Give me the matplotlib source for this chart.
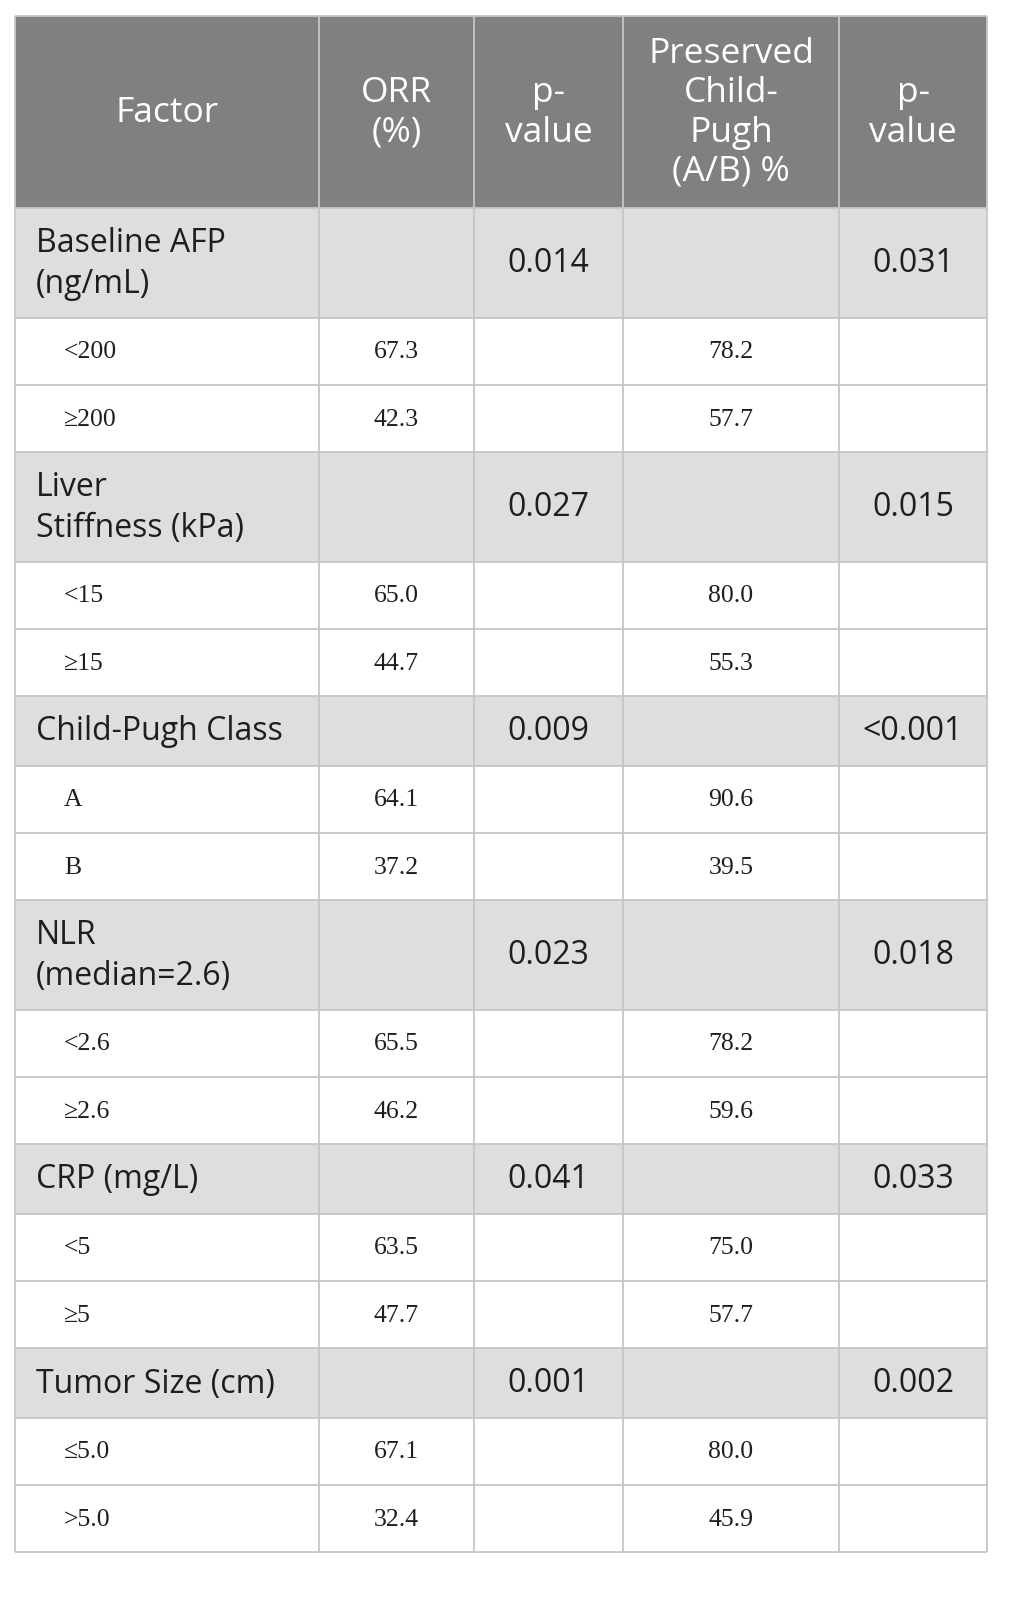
import matplotlib
matplotlib.use("Agg")
import matplotlib.pyplot as plt
from matplotlib.patches import Rectangle

# ---- data ----
headers = ["Factor", "ORR\n(%)", "p-\nvalue", "Preserved\nChild-\nPugh\n(A/B) %", "p-\nvalue"]
groups = ["Baseline AFP\n(ng/mL)", "Liver\nStiffness (kPa)", "Child-Pugh Class",
          "NLR\n(median=2.6)", "CRP (mg/L)", "Tumor Size (cm)"]
group_p_orr = ["0.014", "0.027", "0.009", "0.023", "0.041", "0.001"]
group_p_cp = ["0.031", "0.015", "<0.001", "0.018", "0.033", "0.002"]
sub_labels = [["<200", "≥200"], ["<15", "≥15"], ["A", "B"],
              ["<2.6", "≥2.6"], ["<5", "≥5"], ["≤5.0", ">5.0"]]
orr_values = [[67.3, 42.3], [65.0, 44.7], [64.1, 37.2],
              [65.5, 46.2], [63.5, 47.7], [67.1, 32.4]]
cp_values = [[78.2, 57.7], [80.0, 55.3], [90.6, 39.5],
             [78.2, 59.6], [75.0, 57.7], [80.0, 45.9]]

# ---- layout ----
W, H = 1025, 1603
col_x = [15, 319, 474, 623, 839, 987]
top = 16
header_h = 192
sub_h = 67
HEADER_BG = "#808080"
GROUP_BG = "#dcdee0"
LINE = "#c6c6c6"
TXT = "#1e1e1e"
SANS = ["Open Sans", "DejaVu Sans"]
SERIF = ["Liberation Serif", "DejaVu Serif"]

fig = plt.figure(figsize=(W / 100, H / 100), dpi=100)
ax = fig.add_axes([0, 0, 1, 1])
ax.set_xlim(0, W)
ax.set_ylim(H, 0)
ax.axis("off")

cx = [(col_x[i] + col_x[i + 1]) / 2 for i in range(5)]

# header
ax.add_patch(Rectangle((col_x[0], top), col_x[-1] - col_x[0], header_h,
                       facecolor=HEADER_BG, edgecolor="none", zorder=1))
for i, h in enumerate(headers):
    ax.text(cx[i], top + header_h / 2 + 1, h, ha="center", va="center",
            color="white", fontsize=25.5, family=SANS, linespacing=1.2, zorder=3)

y = top + header_h
row_lines = [top, y]
for gi, g in enumerate(groups):
    gh = 110 if "\n" in g else 70
    ax.add_patch(Rectangle((col_x[0], y), col_x[-1] - col_x[0], gh,
                           facecolor=GROUP_BG, edgecolor="none", zorder=1))
    ax.text(col_x[0] + 21, y + gh / 2 + 1, g, ha="left", va="center",
            color=TXT, fontsize=23, family=SANS, linespacing=1.32, zorder=3)
    ax.text(cx[2], y + gh / 2 + 1, group_p_orr[gi], ha="center", va="center",
            color=TXT, fontsize=23, family=SANS, zorder=3)
    ax.text(cx[4], y + gh / 2 + 1, group_p_cp[gi], ha="center", va="center",
            color=TXT, fontsize=23, family=SANS, zorder=3)
    y += gh
    row_lines.append(y)
    for si in range(2):
        yc = y + sub_h / 2 + 1
        ax.text(col_x[0] + 49, yc, sub_labels[gi][si], ha="left", va="center",
                color=TXT, fontsize=18.5, family=SERIF, zorder=3)
        ax.text(cx[1], yc, f"{orr_values[gi][si]:.1f}", ha="center", va="center",
                color=TXT, fontsize=18.5, family=SERIF, zorder=3)
        ax.text(cx[3], yc, f"{cp_values[gi][si]:.1f}", ha="center", va="center",
                color=TXT, fontsize=18.5, family=SERIF, zorder=3)
        y += sub_h
        row_lines.append(y)

bottom = y
for ry in row_lines:
    ax.plot([col_x[0], col_x[-1]], [ry, ry], color=LINE, lw=1.3, zorder=2,
            solid_capstyle="butt")
for xx in col_x:
    ax.plot([xx, xx], [top, bottom], color=LINE, lw=1.3, zorder=2,
            solid_capstyle="butt")

fig.savefig("out.png", dpi=100, facecolor="white")
